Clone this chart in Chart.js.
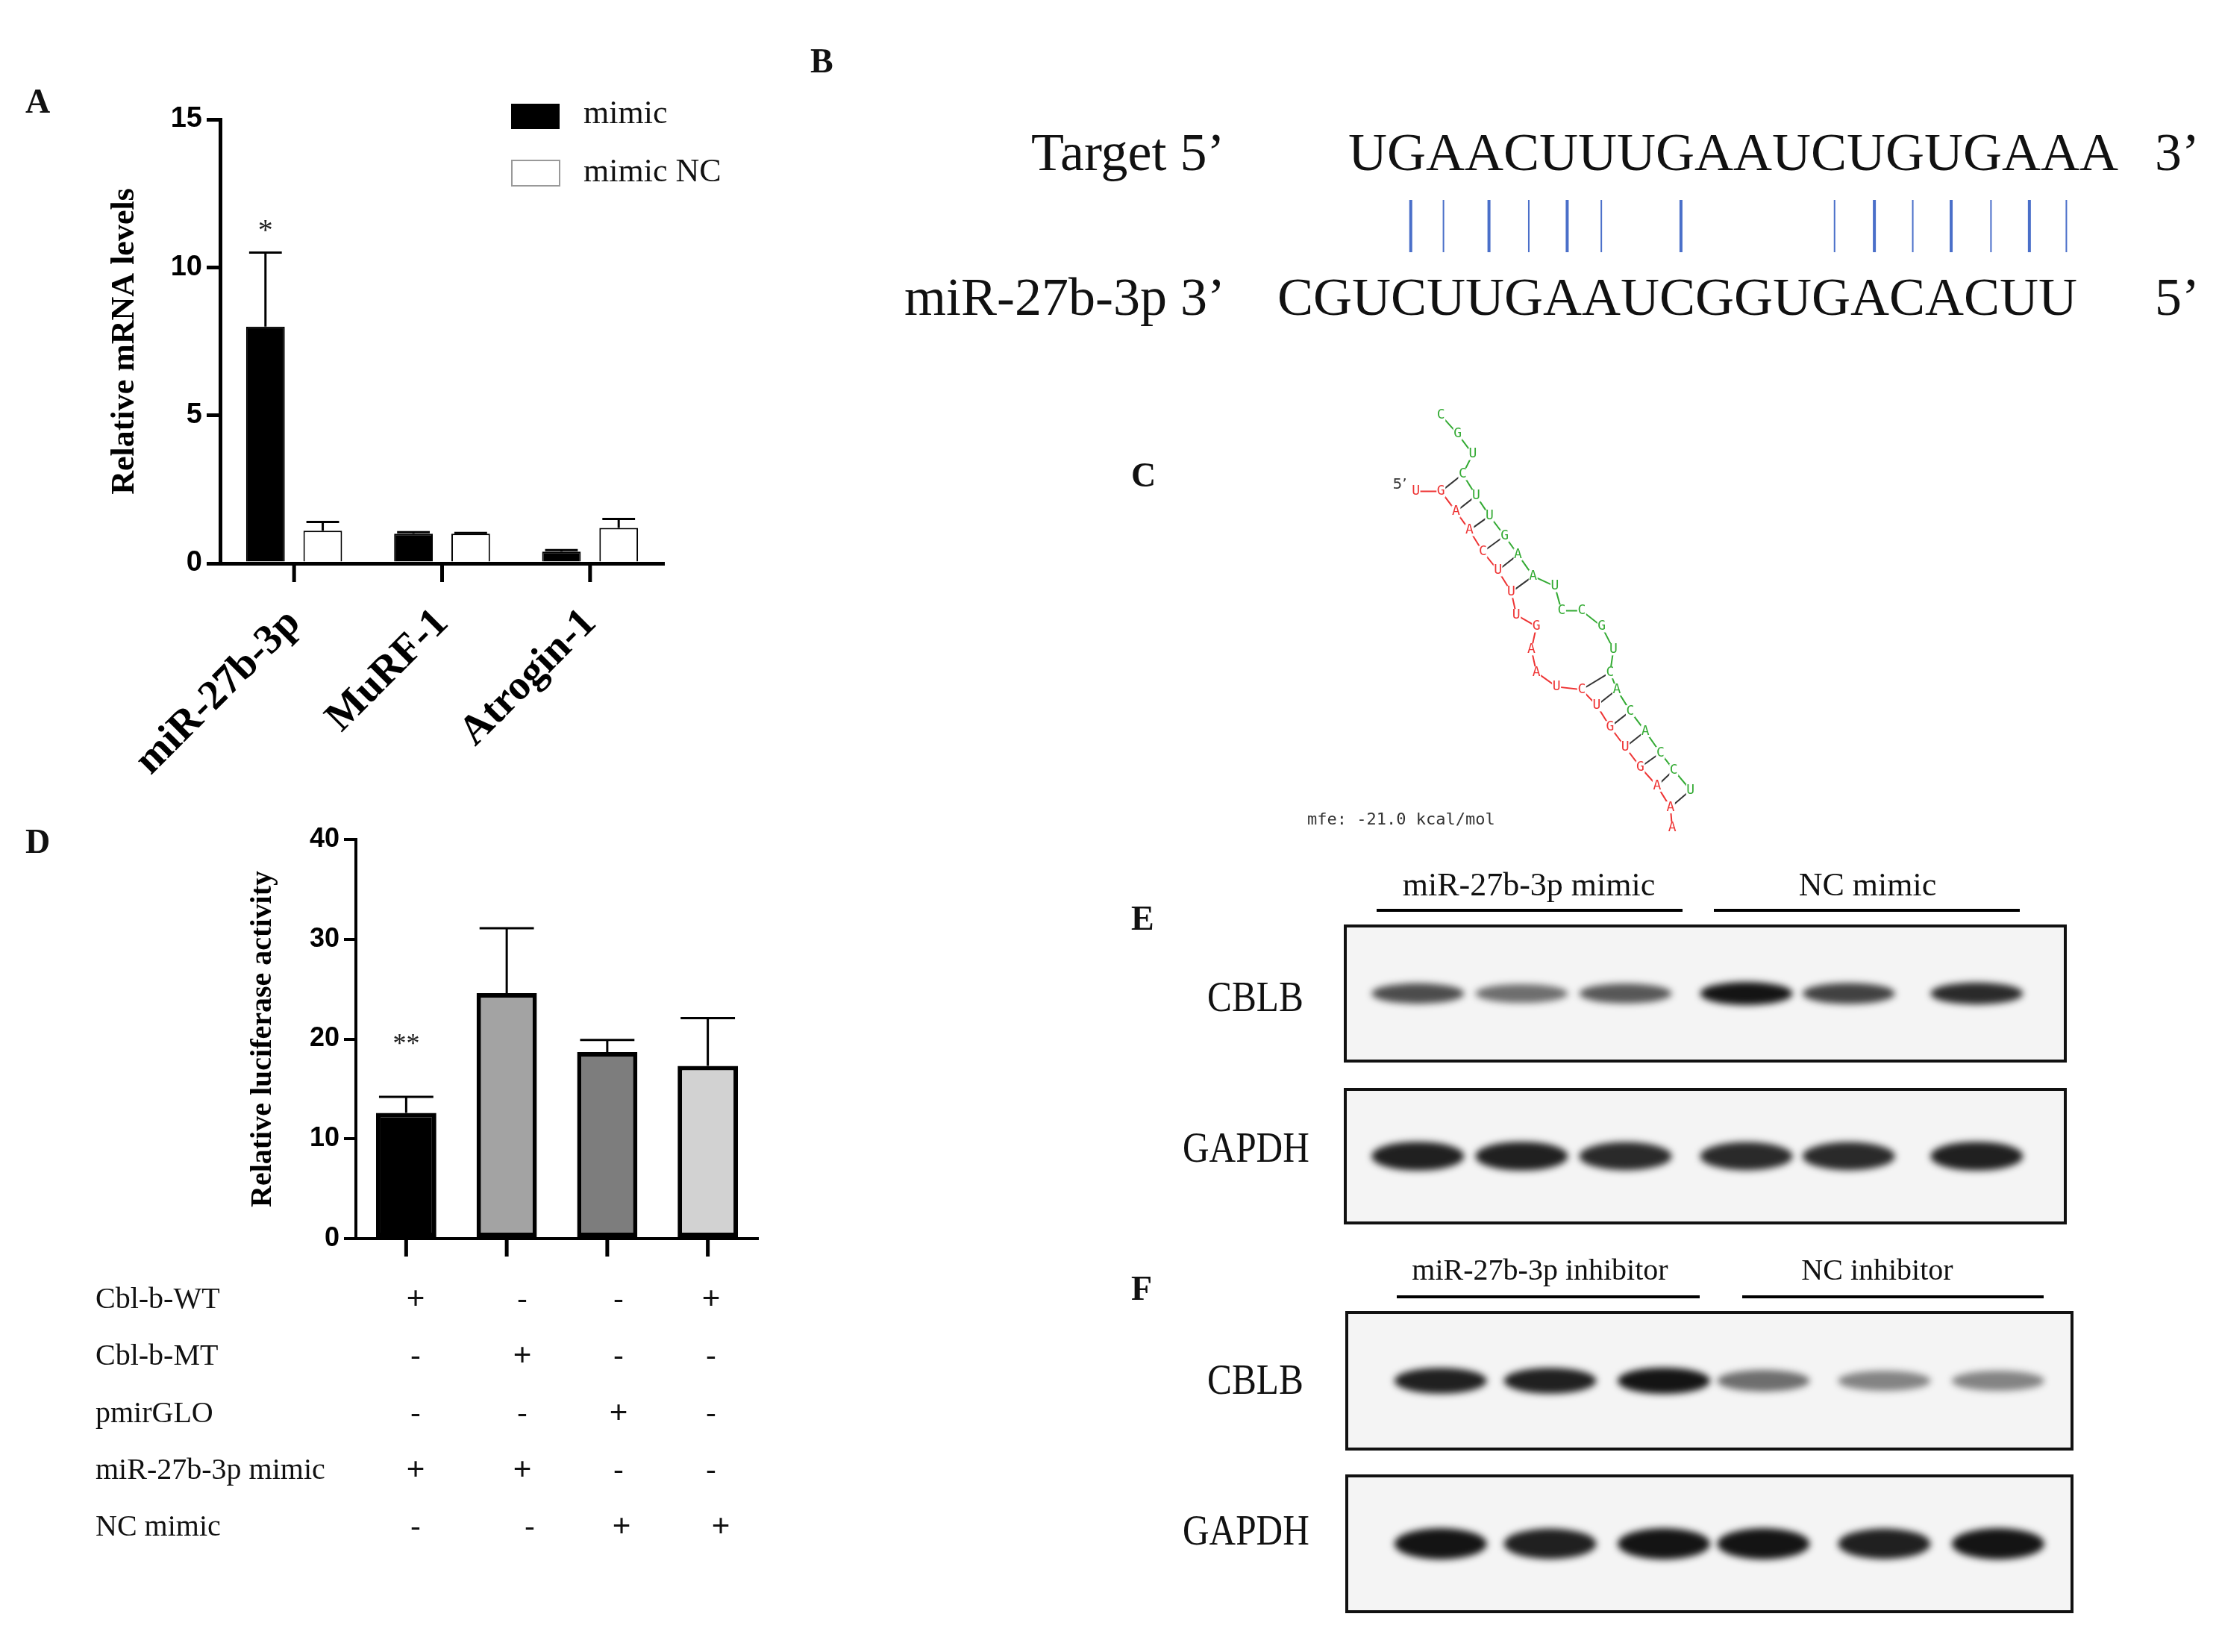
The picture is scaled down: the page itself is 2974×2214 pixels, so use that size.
<!DOCTYPE html>
<html><head><meta charset="utf-8">
<script src="https://cdn.jsdelivr.net/npm/chart.js@4.4.0/dist/chart.umd.min.js"></script>
<style>
body{margin:0;background:#fff;width:2974px;height:2214px;position:relative;overflow:hidden;font-family:"Liberation Serif",serif}
.t{position:absolute;white-space:nowrap;color:#111}
canvas{position:absolute}
</style></head><body>
<canvas id="cA" style="left:0;top:0"></canvas>
<canvas id="cD" style="left:0;top:1000px"></canvas>
<canvas id="cR" style="left:0;top:0"></canvas>
<div id="txt"></div>
<script>
// ---- data ----
const catA = ["miR-27b-3p","MuRF-1","Atrogin-1"];
const mimic = [8.0, 1.0, 0.4];
const mimicErr = [2.5, 0.05, 0.05];
const mimicNC = [1.1, 1.0, 1.2];
const mimicNCErr = [0.3, 0.03, 0.3];
const ticksA = [0,5,10,15];
const starsA = ["*","",""];

const catD = ["g1","g2","g3","g4"];
const luc = [12.6, 24.6, 18.7, 17.3];
const lucErr = [1.6, 6.5, 1.2, 4.8];
const ticksD = [0,10,20,30,40];
const starsD = ["**","","",""];
const tableRows = ["Cbl-b-WT","Cbl-b-MT","pmirGLO","miR-27b-3p mimic","NC mimic"];
const tableSigns = [["+","-","-","+"],["-","+","-","-"],["-","-","+","-"],["+","+","-","-"],["-","-","+","+"]];

const blotE_CBLB = [0.75,0.6,0.7,1.0,0.8,0.9];
const blotE_GAPDH = [0.95,0.95,0.9,0.9,0.9,0.95];
const blotF_CBLB = [0.95,0.95,1.0,0.6,0.5,0.5];
const blotF_GAPDH = [1.0,0.95,1.0,1.0,0.95,1.0];

const SERIF='"Liberation Serif", serif', SANS='"Liberation Sans", Arial, sans-serif';

function errPlugin(errs,stars,sfont,sgap){return {id:'err'+Math.random(),afterDatasetsDraw(ch){
  const c=ch.ctx; c.save(); c.strokeStyle='#000'; c.lineWidth=3;
  ch.data.datasets.forEach((ds,di)=>{const m=ch.getDatasetMeta(di);
    m.data.forEach((b,i)=>{const y0=ch.scales.y.getPixelForValue(ds.data[i]);
      const y1=ch.scales.y.getPixelForValue(ds.data[i]+errs[di][i]);
      c.beginPath();c.moveTo(b.x,y0);c.lineTo(b.x,y1);c.moveTo(b.x-b.width/2+4,y1);c.lineTo(b.x+b.width/2-4,y1);c.stroke();
      if(di==0&&stars[i]){c.fillStyle='#222';c.font=sfont;c.textAlign='center';c.textBaseline='alphabetic';c.fillText(stars[i],b.x,y1-sgap);}});});
  c.restore();}};}

function axisTicks(len){return {id:'xt'+Math.random(),afterDraw(ch){
  const c=ch.ctx,x=ch.scales.x,b=ch.chartArea.bottom;c.save();c.strokeStyle='#000';c.lineWidth=5;
  x.ticks.forEach((t,i)=>{const px=x.getPixelForTick(i);c.beginPath();c.moveTo(px,b);c.lineTo(px,b+len);c.stroke();});c.restore();}};}
function yTitle(text,x,font){return {id:'yt'+Math.random(),afterDraw(ch){const c=ch.ctx,a=ch.chartArea;c.save();
  c.translate(x,(a.top+a.bottom)/2);c.rotate(-Math.PI/2);c.font=font;c.fillStyle='#000';c.textAlign='center';c.textBaseline='middle';c.fillText(text,0,0);c.restore();}};}

// ---- Panel A ----
const cA=document.getElementById('cA');cA.width=1000;cA.height=1100;cA.style.width='1000px';cA.style.height='1100px';
new Chart(cA,{type:'bar',data:{labels:catA,datasets:[
  {data:mimic,backgroundColor:'#000',borderColor:'#000',borderWidth:2,categoryPercentage:0.774,barPercentage:0.675},
  {data:mimicNC,backgroundColor:'#fff',borderColor:'#000',borderWidth:2,categoryPercentage:0.774,barPercentage:0.675}]},
 options:{responsive:false,animation:false,devicePixelRatio:1,layout:{padding:{top:160,right:110,left:0,bottom:0}},
  plugins:{legend:{display:false},tooltip:{enabled:false}},
  scales:{y:{min:0,max:15,afterFit(s){s.width=295;},afterBuildTicks(s){s.ticks=ticksA.map(v=>({value:v}));},
     border:{color:'#000',width:5},grid:{drawOnChartArea:false,color:'#000',lineWidth:5,tickLength:18},
     ticks:{color:'#000',font:{family:SANS,size:38,weight:'bold'},padding:6}},
   x:{afterFit(s){s.height=345;},border:{color:'#000',width:5},grid:{display:false},
     ticks:{color:'#000',font:{family:SERIF,size:56,weight:'bold'},minRotation:45,maxRotation:45,padding:40}}}},
 plugins:[errPlugin([mimicErr,mimicNCErr],starsA,'40px "Liberation Serif"',18),axisTicks(25),yTitle('Relative mRNA levels',168,'bold 44px "Liberation Serif"')]});

// ---- Panel D ----
const cD=document.getElementById('cD');cD.width=1100;cD.height=800;cD.style.width='1100px';cD.style.height='800px';
new Chart(cD,{type:'bar',data:{labels:catD,datasets:[
  {data:luc,backgroundColor:['#000','#a3a3a3','#7d7d7d','#d2d2d2'],borderColor:'#000',borderWidth:6,borderSkipped:false,categoryPercentage:1,barPercentage:0.6}]},
 options:{responsive:false,animation:false,devicePixelRatio:1,layout:{padding:{top:125,right:84,left:0,bottom:0}},
  plugins:{legend:{display:false},tooltip:{enabled:false}},
  scales:{y:{min:0,max:40,afterFit(s){s.width=477;},afterBuildTicks(s){s.ticks=ticksD.map(v=>({value:v}));},
     border:{color:'#000',width:4},grid:{drawOnChartArea:false,color:'#000',lineWidth:4,tickLength:16},
     ticks:{color:'#000',font:{family:SANS,size:36,weight:'bold'},padding:6}},
   x:{afterFit(s){s.height=140;},border:{color:'#000',width:4},grid:{display:false},ticks:{display:false}}}},
 plugins:[errPlugin([lucErr],starsD,'36px "Liberation Serif"',60),axisTicks(24),yTitle('Relative luciferase activity',353,'bold 40px "Liberation Serif"')]});

// ---- text ----
const T=document.getElementById('txt');
function txt(s,x,y,size,opt={}){const d=document.createElement('div');d.className='t';d.textContent=s;
 d.style.left=x+'px';d.style.top=y+'px';d.style.fontSize=size+'px';d.style.lineHeight='1';
 d.style.transformOrigin='0 50%';
 d.style.transform='translate('+(opt.ax||0)*-100+'%,-50%)';
 if(opt.bold)d.style.fontWeight='bold';if(opt.font)d.style.fontFamily=opt.font;if(opt.color)d.style.color=opt.color;
 if(opt.ls)d.style.letterSpacing=opt.ls+'px';
 if(opt.sx)d.style.transform+=' scaleX('+opt.sx+')';T.appendChild(d);return d;}
txt('A',34,136,46,{bold:true});txt('D',34,1128,46,{bold:true});
txt('B',1086,82,46,{bold:true});txt('C',1516,637,46,{bold:true});
txt('E',1516,1231,46,{bold:true});txt('F',1516,1727,46,{bold:true});
txt('mimic',782,151,44);txt('mimic NC',782,229,44);
tableRows.forEach((r,i)=>{const y=1740+i*76.3;txt(r,128,y,40);
 const xs=[[557,700,829,953],[557,700,829,953],[557,700,829,953],[557,700,829,953],[557,710,833,966]][i];
 tableSigns[i].forEach((s,j)=>txt(s,xs[j],y,s=='+'?44:40,{ax:0.5,bold:s=='+'}));});
// B
txt("Target  5’",1382,204,72);txt('UGAACUUUGAAUCUGUGAAA',1807,204,72);txt('3’',2888,204,72);
txt("miR-27b-3p  3’",1212,398,72);txt('CGUCUUGAAUCGGUGACACUU',1712,398,72);txt('5’',2888,398,72);
// E,F labels
txt('miR-27b-3p mimic',2049,1186,44,{ax:0.5});txt('NC mimic',2503,1186,44,{ax:0.5});
txt('CBLB',1618,1336,58,{sx:0.85});txt('GAPDH',1585,1538,58,{sx:0.85});
txt('miR-27b-3p inhibitor',2064,1702,40,{ax:0.5});txt('NC inhibitor',2516,1702,40,{ax:0.5});
txt('CBLB',1618,1849,58,{sx:0.85});txt('GAPDH',1585,2051,58,{sx:0.85});
txt('mfe: -21.0 kcal/mol',1752,1098,22,{font:'"DejaVu Sans Mono",monospace',color:'#333'});

// ---- right-side drawings ----
const cR=document.getElementById('cR');cR.width=2974;cR.height=2214;const g=cR.getContext('2d');
g.strokeStyle='#4a6fc9';
[992,1015,1047,1075,1102,1126,1182,1290,1318,1345,1372,1400,1427,1453].forEach((x,i)=>{
 const px=x*1.906;g.lineWidth=(i%2==0)?4:2;g.beginPath();g.moveTo(px,268);g.lineTo(px,338);g.stroke();});
g.strokeStyle='#000';g.lineWidth=4;
[[1845,2255,1220],[2297,2707,1220],[1872,2278,1738],[2335,2739,1738]].forEach(l=>{g.beginPath();g.moveTo(l[0],l[2]);g.lineTo(l[1],l[2]);g.stroke();});
function blot(x0,y0,x1,y1,lanes,ints,h){
 g.fillStyle='#f4f4f4';g.fillRect(x0,y0,x1-x0,y1-y0);g.strokeStyle='#111';g.lineWidth=4;g.strokeRect(x0,y0,x1-x0,y1-y0);
 const cy=(y0+y1)/2;
 lanes.forEach((lx,i)=>{const px=lx*1.906,a=ints[i];g.save();g.filter='blur(5px)';
  g.fillStyle='rgba(20,20,20,'+a+')';g.beginPath();g.ellipse(px,cy,62,h*(0.6+0.5*a)/2,0,0,Math.PI*2);g.fill();g.restore();});}
const lanesE=[997,1070,1143,1228,1300,1390],lanesF=[1013,1090,1170,1240,1325,1405];
blot(1803,1241,2768,1422,lanesE,blotE_CBLB,28);
blot(1803,1460,2768,1639,lanesE,blotE_GAPDH,36);
blot(1805,1759,2777,1942,lanesF,blotF_CBLB,32);
blot(1805,1978,2777,2160,lanesF,blotF_GAPDH,38);
// RNA structure (approximate)
const Z=(p)=>[1700+p[0]*0.449,520+p[1]*0.385];
const red=[['U',440,360],['G',515,360],['A',560,430],['A',600,495],['C',640,570],['U',685,635],['U',725,710],['U',740,790],['G',800,830],['A',785,910],['A',800,990],['U',860,1040],['C',935,1050],['U',980,1105],['G',1020,1180],['U',1065,1250],['G',1110,1320],['A',1160,1385],['A',1200,1460],['A',1205,1530]];
const green=[['C',515,95],['G',565,160],['U',610,230],['C',580,300],['U',620,375],['U',660,445],['G',705,515],['A',745,580],['A',790,655],['U',855,690],['C',875,775],['C',935,775],['G',995,830],['U',1030,910],['C',1020,990],['A',1040,1050],['C',1080,1125],['A',1125,1195],['C',1170,1270],['C',1210,1330],['U',1260,1400]];
const pairs=[[1,3],[2,4],[3,5],[4,6],[5,7],[6,8],[12,14],[13,15],[14,16],[15,17],[16,18],[17,19],[18,20]];
g.lineWidth=2;g.strokeStyle='#333';
pairs.forEach(p=>{const a=Z(red[p[0]].slice(1)),b=Z(green[p[1]].slice(1));g.beginPath();g.moveTo(a[0],a[1]);g.lineTo(b[0],b[1]);g.stroke();});
[[red,'#e33'],[green,'#3a3']].forEach(([arr,col])=>{g.strokeStyle=col;g.beginPath();arr.forEach((p,i)=>{const q=Z(p.slice(1));i?g.lineTo(q[0],q[1]):g.moveTo(q[0],q[1]);});g.stroke();
 g.font='18px "DejaVu Sans Mono"';g.textAlign='center';g.textBaseline='middle';
 arr.forEach(p=>{const q=Z(p.slice(1));g.fillStyle='#fff';g.fillRect(q[0]-6,q[1]-8,12,16);g.fillStyle=col;g.fillText(p[0],q[0],q[1]);});});
g.fillStyle='#333';g.font='20px "DejaVu Sans"';g.fillText('5’',1876,650);
g.fillStyle='#000';g.fillRect(685,139,65,34);g.strokeStyle='#999';g.lineWidth=2;g.strokeRect(686,215,64,34);
</script></body></html>
